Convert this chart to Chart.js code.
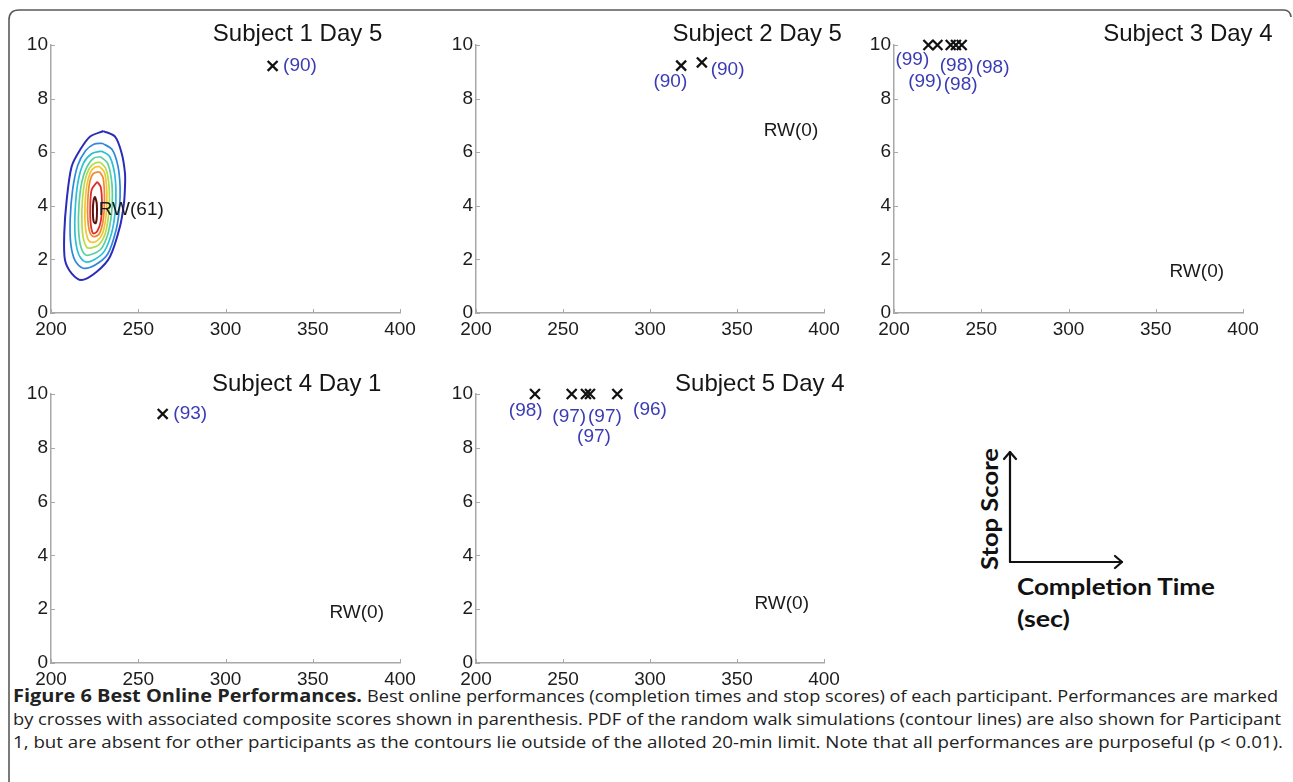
<!DOCTYPE html>
<html><head><meta charset="utf-8">
<script src="https://cdn.jsdelivr.net/npm/chart.js@4.4.1/dist/chart.umd.min.js"></script>
<style>
html,body{margin:0;padding:0;background:#fff;}
body{width:1293px;height:782px;overflow:hidden;position:relative;}
.pc{position:absolute;}
#frame{position:absolute;left:0;top:0;}
</style></head><body>
<svg id="frame" width="1293" height="782" xmlns="http://www.w3.org/2000/svg">
  <path d="M 9 782 L 9 20 Q 9 10 19 10 L 1284 10 Q 1290 10 1291 17" fill="none" stroke="#5a5a5a" stroke-width="1.6"/>
  <g stroke="#111" stroke-width="2.2" fill="none" stroke-linecap="round" stroke-linejoin="round">
    <line x1="1010" y1="562" x2="1010" y2="452"/>
    <polyline points="1004,459 1010,452 1016,459"/>
    <line x1="1010" y1="562" x2="1122" y2="562"/>
    <polyline points="1115,556 1122,562 1115,568"/>
  </g>
  <g font-family="Lato, 'Open Sans', sans-serif" font-weight="bold" font-size="22" fill="#111">
    <text transform="translate(998,570) rotate(-90)" textLength="122" lengthAdjust="spacingAndGlyphs">Stop Score</text>
    <text x="1017" y="595" textLength="198" lengthAdjust="spacingAndGlyphs">Completion Time</text>
    <text x="1017" y="627" textLength="53" lengthAdjust="spacingAndGlyphs">(sec)</text>
  </g>
  <g font-family="'Open Sans', 'Noto Sans', sans-serif" font-size="17" fill="#222">
    <text x="13" y="702" font-weight="bold" textLength="349" lengthAdjust="spacingAndGlyphs">Figure 6 Best Online Performances.</text>
    <text x="367" y="702" textLength="911" lengthAdjust="spacingAndGlyphs">Best online performances (completion times and stop scores) of each participant. Performances are marked</text>
    <text x="13" y="725" textLength="1268" lengthAdjust="spacingAndGlyphs">by crosses with associated composite scores shown in parenthesis. PDF of the random walk simulations (contour lines) are also shown for Participant</text>
    <text x="13" y="748" textLength="1270" lengthAdjust="spacingAndGlyphs">1, but are absent for other participants as the contours lie outside of the alloted 20-min limit. Note that all performances are purposeful (p &lt; 0.01).</text>
  </g>
</svg>
<script>
// ---------------- DATA ----------------
const xTicks = [200, 250, 300, 350, 400];
const yTicks = [0, 2, 4, 6, 8, 10];
const subjectTitles = ['Subject 1 Day 5', 'Subject 2 Day 5', 'Subject 3 Day 4', 'Subject 4 Day 1', 'Subject 5 Day 4'];

// completion time (sec), stop score, composite score
const s1Time = [327];            const s1Stop = [9.22];                 const s1Score = [90];
const s2Time = [317.9, 329.8];   const s2Stop = [9.23, 9.35];           const s2Score = [90, 90];
const s3Time = [219.7, 224.9, 232.5, 235.5, 238.8]; const s3Stop = [10, 10, 10, 10, 10]; const s3Score = [99, 99, 98, 98, 98];
const s4Time = [264];            const s4Stop = [9.26];                 const s4Score = [93];
const s5Time = [233.9, 255.0, 263.2, 265.5, 281.2]; const s5Stop = [10, 10, 10, 10, 10]; const s5Score = [98, 97, 97, 97, 96];

// random-walk composite score per subject
const rwScores = [61, 0, 0, 0, 0];

// random walk PDF contours for subject 1 (outer -> inner), [time, stop score]
const rwContour1 = [[230.0,6.79],[236.7,6.58],[240.5,5.96],[242.4,5.21],[242.4,4.71],[241.8,4.09],[239.5,3.22],[233.8,2.10],[226.2,1.54],[217.6,1.23],[211.8,1.48],[208.0,1.98],[207.6,2.97],[209.0,4.22],[211.8,5.46],[216.6,6.08],[222.3,6.58],[230.0,6.79]];
const rwContour2 = [[229.5,6.33],[235.0,6.10],[238.3,5.50],[239.6,4.70],[239.2,3.90],[237.3,3.10],[232.5,2.20],[225.5,1.80],[218.5,1.67],[213.8,1.95],[211.3,2.60],[211.0,3.50],[212.4,4.60],[215.3,5.50],[219.8,6.05],[224.5,6.30],[229.5,6.33]];
const rwContour3 = [[229.0,6.04],[233.5,5.85],[236.2,5.30],[237.2,4.60],[236.8,3.80],[234.8,3.00],[230.5,2.30],[224.5,1.98],[219.5,1.91],[215.8,2.20],[213.8,2.90],[213.9,3.90],[215.5,4.90],[218.7,5.60],[223.5,5.95],[229.0,6.04]];
const rwContour4 = [[228.5,5.83],[232.3,5.60],[234.5,5.05],[235.2,4.40],[234.6,3.65],[232.6,2.95],[228.8,2.40],[223.8,2.20],[220.0,2.16],[217.2,2.45],[215.8,3.10],[216.0,4.00],[217.7,4.90],[220.6,5.45],[224.5,5.78],[228.5,5.83]];
const rwContour5 = [[228.3,5.62],[231.3,5.40],[233.0,4.90],[233.5,4.25],[232.8,3.55],[231.0,2.95],[227.5,2.55],[223.2,2.43],[220.5,2.45],[218.5,2.80],[217.7,3.40],[218.0,4.20],[219.5,4.95],[222.0,5.40],[225.3,5.60],[228.3,5.62]];
const rwContour6 = [[228.0,5.46],[230.6,5.25],[231.8,4.75],[232.0,4.10],[231.2,3.45],[229.4,2.95],[226.5,2.70],[223.0,2.64],[220.9,2.80],[219.6,3.30],[219.5,4.00],[220.5,4.75],[222.6,5.25],[225.3,5.45],[228.0,5.46]];
const rwContour7 = [[227.8,5.27],[229.8,5.05],[230.6,4.50],[230.5,3.90],[229.6,3.35],[227.6,2.95],[224.5,2.85],[222.3,3.00],[221.1,3.50],[221.1,4.20],[222.1,4.85],[224.2,5.20],[227.8,5.27]];
const rwContour8 = [[226.5,4.90],[228.5,4.70],[229.2,4.10],[228.6,3.45],[226.5,3.05],[224.2,2.97],[222.8,3.30],[222.5,3.95],[223.3,4.60],[226.5,4.90]];
const rwContour9 = [[225.2,4.35],[226.2,4.10],[226.3,3.60],[225.6,3.35],[224.5,3.40],[224.0,3.80],[224.4,4.20],[225.2,4.35]];

// ---------------- LAYOUT / STYLE ----------------
const plotRects = [[51,45,400,313],[476,45,824,313],[894,45,1243,313],[51,394,400,663],[476,394,824,663]];
const titlePos = [[341.3,10.41],[361.6,10.41],[368.4,10.41],[340.8,10.37],[363.1,10.37]];
const rwLabelPos = [[246.0,3.84],[381.0,6.79],[373.5,1.54],[375.2,1.87],[375.7,2.22]];
const scoreLabelPos = [
  [[342.7,9.23]],
  [[311.7,8.63],[344.6,9.09]],
  [[210.5,9.44],[217.8,8.63],[235.9,9.23],[238.2,8.51],[256.5,9.15]],
  [[279.8,9.26]],
  [[228.6,9.37],[253.6,9.16],[267.8,8.41],[274.1,9.16],[300.0,9.43]]
];
const contourColors = ['#2c2cb8','#2f88dc','#2cbfd6','#5ccf9f','#b6dc4c','#f4c437','#f0892d','#dd2f2a','#5a1010'];
const contourWidths = [2.0,1.7,1.7,1.7,1.7,1.7,1.7,1.8,2.0];
const FONT = "'Liberation Sans', Arial, sans-serif";

const panelText = {
  id: 'panelText',
  afterDatasetsDraw(chart, args, opts) {
    const ctx = chart.ctx, xs = chart.scales.x, ys = chart.scales.y, ca = chart.chartArea;
    ctx.save();
    // inward tick marks
    ctx.strokeStyle = '#a8a8a8'; ctx.lineWidth = 1;
    xTicks.forEach(v => { const px = Math.round(xs.getPixelForValue(v)) + 0.5; ctx.beginPath(); ctx.moveTo(px, ca.bottom); ctx.lineTo(px, ca.bottom - 4); ctx.stroke(); });
    yTicks.forEach(v => { const py = Math.round(ys.getPixelForValue(v)) + 0.5; ctx.beginPath(); ctx.moveTo(ca.left, py); ctx.lineTo(ca.left + 4, py); ctx.stroke(); });
    (opts.texts || []).forEach(t => {
      ctx.font = t.font; ctx.fillStyle = t.color; ctx.textAlign = 'center'; ctx.textBaseline = 'middle';
      ctx.fillText(t.text, xs.getPixelForValue(t.x), ys.getPixelForValue(t.y));
    });
    ctx.restore();
  }
};

function makePanel(i, times, stops, scores, contours) {
  const r = plotRects[i];
  const padL = 50, padT = 45, padR = 48, padB = 42, xH = 30;
  const w = (r[2] - r[0]) + padL + padR, h = (r[3] - r[1]) + padT + padB;
  const div = document.createElement('div'); div.className = 'pc';
  div.style.left = (r[0] - padL) + 'px'; div.style.top = (r[1] - padT) + 'px';
  const c = document.createElement('canvas'); c.width = w; c.height = h;
  c.style.width = w + 'px'; c.style.height = h + 'px';
  div.appendChild(c); document.body.appendChild(div);

  const datasets = [];
  contours.forEach((pts, k) => {
    datasets.push({ data: pts.map(p => ({ x: p[0], y: p[1] })), showLine: true, pointRadius: 0,
      borderColor: contourColors[k], borderWidth: contourWidths[k], fill: false, tension: 0.3 });
  });
  datasets.push({ data: times.map((t, j) => ({ x: t, y: stops[j] })), showLine: false, clip: false,
    pointStyle: 'crossRot', pointRadius: 7, borderColor: '#111', borderWidth: 2.3, backgroundColor: '#111' });

  const texts = [{ text: subjectTitles[i], x: titlePos[i][0], y: titlePos[i][1], color: '#151515', font: '24px ' + FONT }];
  scores.forEach((s, j) => texts.push({ text: '(' + s + ')', x: scoreLabelPos[i][j][0], y: scoreLabelPos[i][j][1], color: '#3b3bb6', font: '19px ' + FONT }));
  texts.push({ text: 'RW(' + rwScores[i] + ')', x: rwLabelPos[i][0], y: rwLabelPos[i][1], color: '#1a1a1a', font: '19px ' + FONT });

  const tickFont = { family: FONT, size: 19 };
  new Chart(c, {
    type: 'scatter',
    data: { datasets },
    plugins: [panelText],
    options: {
      responsive: false, animation: false, events: [],
      layout: { padding: { left: 0, top: padT, right: padR, bottom: padB - xH } },
      plugins: { legend: { display: false }, tooltip: { enabled: false }, title: { display: false }, panelText: { texts } },
      scales: {
        x: { type: 'linear', min: 200, max: 400,
          afterBuildTicks: s => { s.ticks = xTicks.map(v => ({ value: v })); },
          afterFit: s => { s.height = xH; },
          grid: { drawOnChartArea: false, drawTicks: false },
          border: { color: '#a8a8a8', width: 1.5 },
          ticks: { font: tickFont, color: '#1c1c1c', padding: 5, maxRotation: 0, autoSkip: false } },
        y: { type: 'linear', min: 0, max: 10,
          afterBuildTicks: s => { s.ticks = yTicks.map(v => ({ value: v })); },
          afterFit: s => { s.width = padL; },
          grid: { drawOnChartArea: false, drawTicks: false },
          border: { color: '#a8a8a8', width: 1.5 },
          ticks: { font: tickFont, color: '#1c1c1c', padding: 3, autoSkip: false } }
      }
    }
  });
}

makePanel(0, s1Time, s1Stop, s1Score, [rwContour1, rwContour2, rwContour3, rwContour4, rwContour5, rwContour6, rwContour7, rwContour8, rwContour9]);
makePanel(1, s2Time, s2Stop, s2Score, []);
makePanel(2, s3Time, s3Stop, s3Score, []);
makePanel(3, s4Time, s4Stop, s4Score, []);
makePanel(4, s5Time, s5Stop, s5Score, []);
</script>
</body></html>
